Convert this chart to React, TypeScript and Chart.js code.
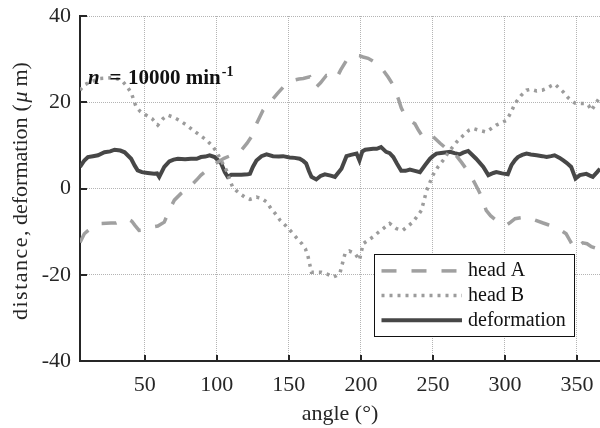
import React, { useEffect, useRef } from "react";
import { Chart, registerables } from "chart.js";

Chart.register(...registerables);

// ---------- data ----------
const headAAngles = [5, 8, 10.5, 14, 19.5, 26.5, 30, 34, 38, 41, 43, 46, 50, 55.5, 59, 63.5, 67, 70.5, 75, 79, 82, 86, 89, 93, 97, 100.5, 105, 110, 114, 117, 121, 124, 127.5, 132, 135.5, 139, 142, 146, 150, 153, 157, 160, 164.5, 168, 172, 176, 180, 183, 186, 190, 193, 196, 199, 201.5, 205, 209.5, 213, 215.5, 219, 222.5, 226, 228, 230.5, 234, 237.5, 240, 243, 245.5, 248, 251.5, 255, 259.5, 263, 266, 270, 273, 278, 281, 284, 287, 290, 294, 297.5, 301, 304, 307, 311, 315, 320, 326.5, 330, 334.5, 338, 342.5, 345, 348.5, 351, 354, 357, 360, 363.5, 366];
const headAValues = [-12.5, -10.5, -9.8, -9.0, -8.1, -8.0, -8.0, -7.5, -7.0, -7.6, -8.5, -9.7, -9.6, -8.9, -8.7, -7.8, -5.0, -2.7, -1.2, -0.2, 0.7, 2.0, 3.1, 4.2, 5.2, 6.1, 7.0, 7.7, 8.2, 8.9, 10.5, 12.0, 15.0, 18.1, 19.5, 20.8, 22.0, 23.5, 24.4, 25.1, 25.4, 25.5, 25.9, 23.2, 24.5, 26.2, 26.0, 25.5, 27.5, 29.7, 30.6, 30.9, 30.8, 30.5, 30.2, 29.3, 28.5, 27.4, 25.8, 23.9, 20.8, 18.7, 17.0, 15.8, 15.0, 13.5, 12.0, 12.5, 12.7, 11.6, 10.5, 9.2, 8.3, 7.7, 6.0, 4.6, 1.9, 0.0, -2.0, -5.1, -6.3, -7.4, -8.2, -8.5, -7.8, -7.0, -6.8, -6.6, -7.2, -8.0, -8.4, -8.9, -9.5, -10.5, -12.0, -14.0, -13.5, -12.6, -12.8, -13.5, -13.9, -14.0];

const headBAngles = [5, 8, 12, 18.8, 24, 28, 32, 35, 38, 40.8, 42.5, 44, 47, 51, 55, 59, 61, 62.7, 66, 70, 74, 79, 83.5, 88, 93, 97, 99.8, 103, 106.7, 109, 111, 113.5, 116, 119.5, 123, 127.5, 131, 134.5, 137.5, 141, 144, 148, 152, 155.5, 159, 161.5, 163.4, 165.7, 169, 172.6, 177, 180.8, 183, 185.4, 187.5, 189, 192, 196, 199, 201.6, 205, 208.5, 212, 215.5, 220, 224.7, 229, 232.5, 236, 239, 242, 245.6, 248, 250, 253.5, 257, 261, 266.5, 271, 275, 278, 282, 287, 290.5, 294, 298, 301, 304, 307, 311, 315, 318, 322, 326, 329, 332, 334.7, 337.5, 340.5, 344, 348.6, 351, 355.6, 358, 360, 363, 366];
const headBValues = [22.8, 24.0, 24.7, 25.5, 25.6, 25.7, 25.3, 24.7, 23.5, 22.0, 20.3, 18.9, 17.8, 17.0, 16.2, 14.7, 15.5, 16.2, 17.0, 16.5, 15.8, 14.7, 13.5, 12.4, 11.2, 9.8, 8.5, 6.5, 4.2, 2.0, 0.3, -0.5, -1.2, -2.0, -2.5, -2.0, -2.3, -3.1, -4.6, -6.0, -7.4, -8.7, -10.1, -11.5, -12.8, -14.0, -15.9, -19.4, -19.4, -19.4, -19.9, -20.5, -20.2, -19.7, -17.0, -15.1, -14.5, -15.1, -16.6, -12.8, -12.0, -11.2, -10.2, -9.3, -8.1, -9.3, -9.7, -8.8, -7.8, -6.5, -5.1, -0.5, 1.5, 3.1, 5.0, 6.5, 8.5, 10.8, 12.3, 13.5, 13.9, 13.5, 13.1, 13.9, 14.7, 15.3, 15.8, 17.5, 19.7, 21.5, 22.8, 23.0, 22.6, 22.8, 23.2, 23.8, 24.2, 23.3, 22.4, 21.0, 19.8, 19.7, 19.7, 19.3, 18.1, 19.7, 21.2];

const deformationAngles = [5, 8, 10.5, 14, 17.5, 22, 26, 29, 33, 36, 40.5, 43, 45, 48, 52, 56.5, 58.5, 60, 63.5, 67, 70, 73, 78, 82, 86, 89, 92, 95, 98.5, 101, 103, 105.5, 107.5, 110, 112.5, 117, 121.5, 123, 125, 127.5, 131, 134.5, 139, 143, 146, 150.5, 154, 157.5, 160, 162, 164, 165.7, 169, 172, 175, 179, 182, 186.5, 190, 193, 197, 199, 201, 203, 208.5, 211, 214, 217.5, 220, 222.5, 225, 228, 231, 234, 237.5, 241, 244.5, 248, 250, 252.5, 257, 262, 265, 268.5, 271, 274.5, 277, 280, 285, 288.5, 292, 294, 298, 302, 304.5, 307, 309, 312, 315, 318, 322, 326, 329, 332, 334.5, 338, 340.5, 343, 346, 349, 352, 356.5, 359, 361, 364, 366];
const deformationValues = [5.0, 6.5, 7.3, 7.5, 7.7, 8.4, 8.6, 9.0, 8.8, 8.4, 6.9, 5.3, 4.2, 3.8, 3.6, 3.4, 3.5, 2.7, 5.0, 6.3, 6.7, 6.9, 6.8, 6.9, 6.9, 7.3, 7.4, 7.7, 7.3, 6.5, 5.8, 3.8, 2.7, 3.2, 3.2, 3.2, 3.3, 3.4, 5.0, 6.5, 7.5, 7.9, 7.5, 7.4, 7.5, 7.2, 7.1, 6.9, 6.4, 5.8, 4.0, 2.7, 2.1, 2.9, 3.3, 3.0, 2.7, 4.6, 7.5, 7.8, 8.1, 6.5, 8.6, 9.0, 9.2, 9.2, 9.6, 8.5, 8.2, 7.3, 5.8, 4.1, 4.1, 4.4, 4.1, 3.8, 5.4, 6.9, 7.5, 8.1, 8.3, 8.5, 8.2, 7.9, 8.3, 8.7, 7.9, 6.9, 5.0, 3.1, 3.6, 3.8, 3.5, 3.3, 5.4, 6.6, 7.3, 7.8, 8.1, 7.9, 7.7, 7.5, 7.3, 7.5, 7.7, 7.1, 6.5, 5.9, 5.0, 2.3, 3.1, 3.4, 3.0, 2.7, 3.8, 4.6];

const seriesLabels = ["head A", "head B", "deformation"];
const xTickValues = [50, 100, 150, 200, 250, 300, 350];
const yTickValues = [-40, -20, 0, 20, 40];
const xMin = 5;
const xMax = 366;
const yMin = -40;
const yMax = 40;
const xTitle = "angle (°)";
const annotationText = { n: "n", eq: "=", rest: "10000 min", sup: "-1" };

// ---------- styles ----------
const FONT = '"Liberation Serif", "Times New Roman", serif';
const TEXT = "#262626";
const GRID = "#b4b4b4";

const toPoints = (xs: number[], ys: number[]) => xs.map((x, i) => ({ x, y: ys[i] }));

const overlayPlugin = {
  id: "overlay",
  afterDatasetsDraw(chart: any) {
    const { ctx, chartArea: ca, scales } = chart;
    const xs = scales.x;
    const ys = scales.y;
    ctx.save();

    // inward tick marks
    ctx.strokeStyle = TEXT;
    ctx.lineWidth = 2;
    ctx.setLineDash([]);
    ctx.beginPath();
    xTickValues.forEach((v) => {
      const px = Math.round(xs.getPixelForValue(v));
      ctx.moveTo(px, ca.bottom);
      ctx.lineTo(px, ca.bottom - 6);
    });
    yTickValues.forEach((v) => {
      const py = Math.round(ys.getPixelForValue(v));
      ctx.moveTo(ca.left, py);
      ctx.lineTo(ca.left + 7, py);
    });
    ctx.stroke();

    // annotation  n = 10000 min^-1
    const ax = ca.left + 8;
    const ay = ca.top + 67.5;
    ctx.fillStyle = "#111";
    ctx.textAlign = "left";
    ctx.textBaseline = "alphabetic";
    ctx.font = `italic bold 21px ${FONT}`;
    ctx.fillText(annotationText.n, ax, ay);
    ctx.font = `bold 21px ${FONT}`;
    ctx.fillText(annotationText.eq, ax + 21.5, ay);
    ctx.fillText(annotationText.rest, ax + 40, ay);
    const restW = ctx.measureText(annotationText.rest).width;
    ctx.font = `bold 14px ${FONT}`;
    ctx.fillText(annotationText.sup, ax + 40 + restW + 1, ay - 8);

    // legend box
    const lx = ca.left + 294;
    const ly = ca.top + 237.5;
    const lw = 200;
    const lh = 82;
    ctx.fillStyle = "#ffffff";
    ctx.fillRect(lx, ly, lw, lh);
    ctx.strokeStyle = "#111";
    ctx.lineWidth = 1;
    ctx.strokeRect(Math.round(lx) + 0.5, Math.round(ly) + 0.5, lw, lh);
    chart.data.datasets.forEach((ds: any, i: number) => {
      const ry = ly + 17.4 + i * 24.7;
      ctx.save();
      ctx.strokeStyle = ds.borderColor;
      ctx.lineWidth = ds.borderWidth;
      ctx.setLineDash(ds.borderDash || []);
      ctx.lineCap = "butt";
      ctx.beginPath();
      ctx.moveTo(lx + 7.5, ry);
      ctx.lineTo(lx + 88, ry);
      ctx.stroke();
      ctx.restore();
      ctx.fillStyle = "#111";
      ctx.font = `20px ${FONT}`;
      ctx.textBaseline = "middle";
      ctx.textAlign = "left";
      ctx.fillText(ds.label, lx + 94, ry);
    });

    // y axis title with italic mu
    const cy = (ca.top + ca.bottom) / 2;
    ctx.translate(27, cy);
    ctx.rotate(-Math.PI / 2);
    ctx.fillStyle = TEXT;
    ctx.textBaseline = "alphabetic";
    ctx.textAlign = "left";
    ctx.font = `22px ${FONT}`;
    (ctx as any).letterSpacing = "1.5px";
    ctx.fillText("distance,", -131.5, 0);
    (ctx as any).letterSpacing = "0px";
    ctx.fillText("deformation", -36.5, 0);
    ctx.fillText("(", 77, 0);
    ctx.font = `italic 22px ${FONT}`;
    ctx.fillText("\u03bc", 86, 0);
    ctx.font = `22px ${FONT}`;
    ctx.fillText("m)", 102, 0);

    ctx.restore();
  },
};

export default function App() {
  const canvasRef = useRef<HTMLCanvasElement | null>(null);

  useEffect(() => {
    if (!canvasRef.current) return;
    const chart = new Chart(canvasRef.current, {
      type: "line",
      data: {
        datasets: [
          {
            label: seriesLabels[0],
            data: toPoints(headAAngles, headAValues),
            borderColor: "#a0a0a0",
            borderWidth: 3.5,
            borderDash: [15, 15],
            pointRadius: 0,
            tension: 0,
          },
          {
            label: seriesLabels[1],
            data: toPoints(headBAngles, headBValues),
            borderColor: "#9c9c9c",
            borderWidth: 3.5,
            borderDash: [3, 5],
            pointRadius: 0,
            tension: 0,
          },
          {
            label: seriesLabels[2],
            data: toPoints(deformationAngles, deformationValues),
            borderColor: "#474747",
            borderWidth: 4,
            pointRadius: 0,
            tension: 0,
          },
        ] as any,
      },
      options: {
        animation: false,
        responsive: false,
        devicePixelRatio: 1,
        layout: { padding: { top: 16, right: 0, bottom: 0, left: 0 } },
        plugins: { legend: { display: false }, tooltip: { enabled: false } },
        scales: {
          x: {
            type: "linear",
            min: xMin,
            max: xMax,
            afterBuildTicks: (s: any) => {
              s.ticks = xTickValues.map((v) => ({ value: v }));
            },
            afterFit: (s: any) => {
              s.height = 67;
              s.paddingLeft = 0;
              s.paddingRight = 0;
            },
            grid: { color: GRID, lineWidth: 1, drawTicks: false },
            border: { display: true, color: TEXT, width: 2, dash: [1, 1] },
            ticks: {
              color: TEXT,
              font: { family: FONT, size: 22 },
              padding: 11,
              maxRotation: 0,
              autoSkip: false,
              callback: (v: any) => String(v),
            },
            title: {
              display: true,
              text: xTitle,
              color: TEXT,
              font: { family: FONT, size: 22 },
              padding: { top: 0, bottom: 1 },
            },
          },
          y: {
            type: "linear",
            min: yMin,
            max: yMax,
            afterBuildTicks: (s: any) => {
              s.ticks = yTickValues.map((v) => ({ value: v }));
            },
            afterFit: (s: any) => {
              s.width = 80;
              s.paddingTop = 0;
              s.paddingBottom = 0;
            },
            grid: { color: GRID, lineWidth: 1, drawTicks: false },
            border: { display: true, color: TEXT, width: 2, dash: [1, 1] },
            ticks: {
              color: TEXT,
              font: { family: FONT, size: 22 },
              padding: 9,
              autoSkip: false,
              callback: (v: any) => String(v),
            },
            title: { display: false },
          },
        },
      } as any,
      plugins: [overlayPlugin],
    });
    return () => chart.destroy();
  }, []);

  return (
    <div style={{ position: "fixed", left: 0, top: 0, width: 600, height: 428, background: "#fff" }}>
      <canvas ref={canvasRef} width={600} height={428} style={{ display: "block", width: 600, height: 428 }} />
    </div>
  );
}
